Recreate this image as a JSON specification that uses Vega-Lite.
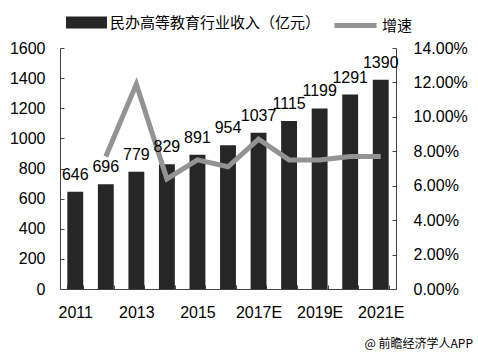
{
  "$schema": "https://vega.github.io/schema/vega-lite/v6.json",
  "width": 336,
  "height": 241,
  "autosize": {"type": "none"},
  "padding": {"left": 60, "top": 48, "right": 82, "bottom": 64},
  "background": "#ffffff",
  "config": {
    "font": "Liberation Sans",
    "view": {"stroke": null},
    "axis": {
      "labelFont": "Liberation Sans",
      "labelFontSize": 16,
      "labelColor": "#000000",
      "domainColor": "#444444",
      "tickColor": "#444444",
      "grid": false,
      "title": null
    }
  },
  "title": {
    "text": "@ 前瞻经济学人APP",
    "orient": "bottom",
    "anchor": "end",
    "frame": "group",
    "fontSize": 12,
    "fontWeight": "normal",
    "font": "Noto Sans CJK SC",
    "color": "#000000",
    "dx": 77,
    "offset": 19
  },
  "data": {
    "values": [
      {"year": "2011", "income": 646, "growth": null},
      {"year": "2012", "income": 696, "growth": 0.077},
      {"year": "2013", "income": 779, "growth": 0.119},
      {"year": "2014", "income": 829, "growth": 0.064},
      {"year": "2015", "income": 891, "growth": 0.075},
      {"year": "2016", "income": 954, "growth": 0.071},
      {"year": "2017E", "income": 1037, "growth": 0.087},
      {"year": "2018E", "income": 1115, "growth": 0.075},
      {"year": "2019E", "income": 1199, "growth": 0.075},
      {"year": "2020E", "income": 1291, "growth": 0.077},
      {"year": "2021E", "income": 1390, "growth": 0.077}
    ]
  },
  "encoding": {
    "x": {
      "field": "year",
      "type": "ordinal",
      "sort": null,
      "scale": {"paddingInner": 0.48, "paddingOuter": 0.24},
      "axis": {
        "labelAngle": 0,
        "tickBand": "extent",
        "tickSize": -4,
        "labelPadding": 19,
        "labelOverlap": false,
        "labelExpr": "indexof(['2011','2013','2015','2017E','2019E','2021E'], datum.value) >= 0 ? datum.value : ''"
      }
    }
  },
  "layer": [
    {
      "mark": {"type": "bar", "color": "#262626"},
      "encoding": {
        "y": {
          "field": "income",
          "type": "quantitative",
          "scale": {"domain": [0, 1600]},
          "axis": {
            "orient": "left",
            "format": "d",
            "values": [0, 200, 400, 600, 800, 1000, 1200, 1400, 1600],
            "tickSize": -4,
            "labelPadding": 19
          }
        },
        "fill": {
          "datum": "民办高等教育行业收入（亿元）",
          "type": "nominal",
          "scale": {"range": ["#262626"]},
          "legend": {
            "orient": "none",
            "legendX": 6,
            "legendY": -46,
            "title": null,
            "padding": 0,
            "symbolType": "M-1,-0.29H1V0.29H-1Z",
            "symbolSize": 1681,
            "symbolStrokeWidth": 0,
            "labelFont": "Noto Sans CJK SC",
            "labelFontSize": 15,
            "labelColor": "#000000",
            "labelOffset": 3,
            "labelLimit": 400
          }
        }
      }
    },
    {
      "transform": [{"filter": "datum.growth != null"}],
      "mark": {"type": "line", "strokeWidth": 5, "color": "#939393"},
      "encoding": {
        "y": {
          "field": "growth",
          "type": "quantitative",
          "scale": {"domain": [0, 0.14]},
          "axis": {
            "orient": "right",
            "format": ".2%",
            "values": [0, 0.02, 0.04, 0.06, 0.08, 0.1, 0.12, 0.14],
            "tickSize": -4,
            "labelPadding": 21
          }
        },
        "stroke": {
          "datum": "增速",
          "type": "nominal",
          "scale": {"range": ["#939393"]},
          "legend": {
            "orient": "none",
            "legendX": 272,
            "legendY": -46,
            "title": null,
            "padding": 0,
            "symbolType": "stroke",
            "symbolSize": 1764,
            "symbolStrokeWidth": 5,
            "labelFont": "Noto Sans CJK SC",
            "labelFontSize": 15,
            "labelColor": "#000000",
            "labelOffset": 3
          }
        }
      }
    },
    {
      "mark": {"type": "text", "dy": -12, "baseline": "alphabetic", "fontSize": 16, "font": "Liberation Sans", "color": "#000000"},
      "encoding": {
        "y": {"field": "income", "type": "quantitative", "scale": {"domain": [0, 1600]}, "axis": null},
        "text": {"field": "income", "type": "quantitative", "format": "d"}
      }
    }
  ],
  "resolve": {"scale": {"y": "independent", "fill": "independent", "stroke": "independent"}}
}
